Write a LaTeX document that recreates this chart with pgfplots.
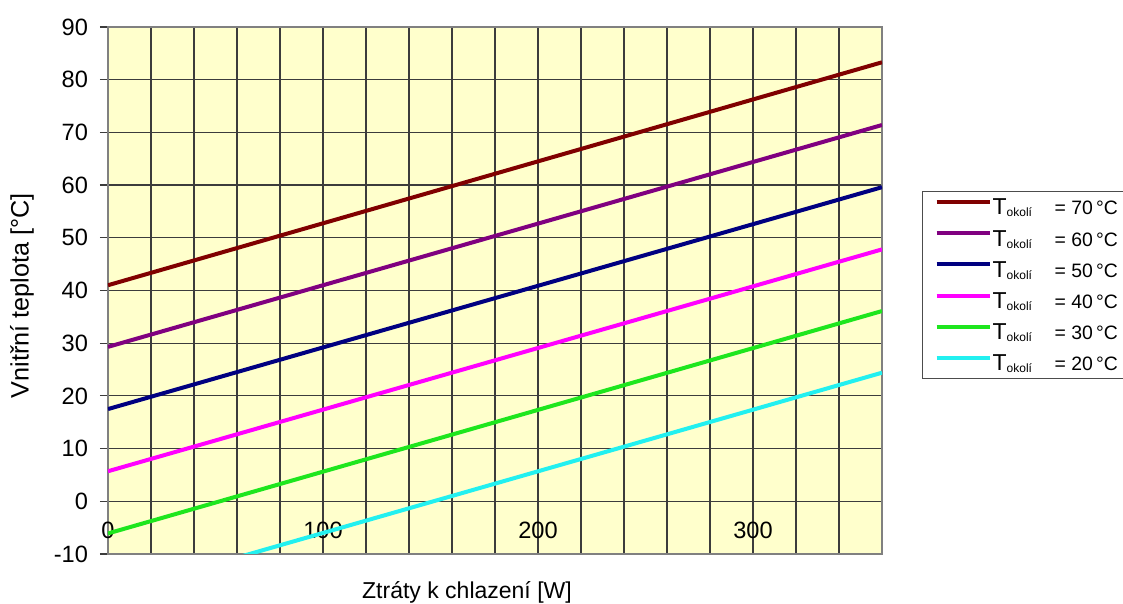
\documentclass[border=0pt]{standalone}
\usepackage{pgfplots}
\pgfplotsset{compat=1.18}
\usepackage{fontspec}
\setmainfont{Liberation Sans}
\definecolor{bgyel}{HTML}{FFFFCC}
\definecolor{gridc}{HTML}{3C3C3C}
\definecolor{c70}{HTML}{800000}
\definecolor{c60}{HTML}{800080}
\definecolor{c50}{HTML}{000080}
\definecolor{c40}{HTML}{FF00FF}
\definecolor{c30}{HTML}{1EE61E}
\definecolor{c20}{HTML}{22F0F0}
\newcommand{\lent}[1]{\makebox[31pt][l]{\fontsize{11.5}{12}\selectfont T\raisebox{-1pt}{\fontsize{6}{6}\selectfont okolí}}\fontsize{9.7}{11}\selectfont = #1\,°C}
\begin{document}
\begin{tikzpicture}
\path[use as bounding box] (-54pt,-25pt) rectangle (507.5pt,277pt);
\begin{axis}[
  at={(0pt,0pt)}, anchor=south west,
  scale only axis, width=387pt, height=263.5pt,
  xmin=0, xmax=360, ymin=-10, ymax=90,
  axis background/.style={fill=bgyel},
  axis line style={draw=gray, line width=0.7pt},
  xtick={0,20,...,340},
  xticklabels={0,,,,,100,,,,,200,,,,,300,,},
  ytick={-10,0,...,90},
  ytick pos=left,
  grid=major,
  grid style={draw=gridc, line width=0.6pt},
  xtick style={draw=none},
  ytick style={draw=gridc, line width=0.6pt},
  tick align=outside, major tick length=4pt,
  /pgf/number format/assume math mode=true,
  tick label style={font=\fontsize{11.8}{13}\selectfont},
  xticklabel style={anchor=center, yshift=16pt},
  yticklabel style={xshift=-2.5pt},
  xlabel={Ztráty k chlazení [W]},
  ylabel={Vnitřní teplota [°C]},
  label style={font=\fontsize{11.5}{14}\selectfont},
  xlabel style={at={(axis description cs:0.4638,-0.0721)}, anchor=center},
  ylabel style={at={(axis description cs:-0.1111,0.4896)}, anchor=center, rotate=0, font=\fontsize{12.6}{14}\selectfont},
  legend style={at={(axis description cs:1.0517,0.6888)}, anchor=north west,
    draw=black!70, line width=0.6pt, fill=white, inner xsep=6pt, inner ysep=0pt,
    row sep=0pt, column sep=0pt,
    nodes={inner sep=0.5pt, text height=11.2pt, text depth=3.4pt, line width=2pt}},
  legend cell align=left,
  legend image code/.code={\draw[#1, line width=2pt] (0pt,2.6pt) -- (26.5pt,2.6pt);},
  every axis plot/.append style={line width=2pt},
  clip=true,
]
\addplot[c70, no markers] coordinates {(0,41.0) (360,83.3)};
\addlegendentry{\lent{70}}
\addplot[c60, no markers] coordinates {(0,29.3) (360,71.4)};
\addlegendentry{\lent{60}}
\addplot[c50, no markers] coordinates {(0,17.5) (360,59.6)};
\addlegendentry{\lent{50}}
\addplot[c40, no markers] coordinates {(0,5.7) (360,47.8)};
\addlegendentry{\lent{40}}
\addplot[c30, no markers] coordinates {(0,-6.1) (360,36.1)};
\addlegendentry{\lent{30}}
\addplot[c20, no markers] coordinates {(0,-17.7) (360,24.4)};
\addlegendentry{\lent{20}}
\end{axis}
\end{tikzpicture}
\end{document}
